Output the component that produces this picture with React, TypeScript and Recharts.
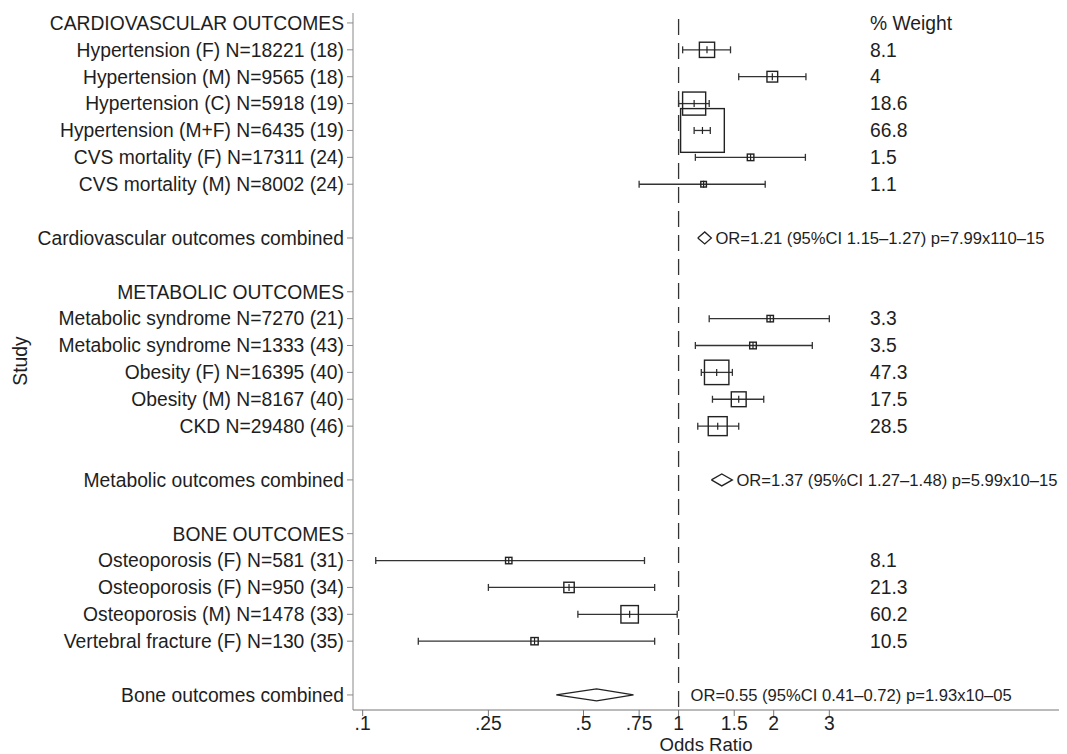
import React from 'react';
import { ScatterChart, Scatter, XAxis, YAxis, ErrorBar, ReferenceLine } from 'recharts';

const rowLabels: string[] = [
  'CARDIOVASCULAR OUTCOMES',
  'Hypertension (F) N=18221 (18)',
  'Hypertension (M) N=9565 (18)',
  'Hypertension (C) N=5918 (19)',
  'Hypertension (M+F) N=6435 (19)',
  'CVS mortality (F) N=17311 (24)',
  'CVS mortality (M) N=8002 (24)',
  '',
  'Cardiovascular outcomes combined',
  '',
  'METABOLIC OUTCOMES',
  'Metabolic syndrome N=7270 (21)',
  'Metabolic syndrome N=1333 (43)',
  'Obesity (F) N=16395 (40)',
  'Obesity (M) N=8167 (40)',
  'CKD N=29480 (46)',
  '',
  'Metabolic outcomes combined',
  '',
  'BONE OUTCOMES',
  'Osteoporosis (F) N=581 (31)',
  'Osteoporosis (F) N=950 (34)',
  'Osteoporosis (M) N=1478 (33)',
  'Vertebral fracture (F) N=130 (35)',
  '',
  'Bone outcomes combined',
];

const studyRows = [1, 2, 3, 4, 5, 6, 11, 12, 13, 14, 15, 20, 21, 22, 23];
const studyOR = [1.23, 1.98, 1.12, 1.19, 1.69, 1.2, 1.95, 1.72, 1.32, 1.55, 1.33, 0.29, 0.45, 0.7, 0.35];
const studyLower = [1.03, 1.55, 1.0, 1.12, 1.13, 0.75, 1.25, 1.13, 1.18, 1.28, 1.15, 0.11, 0.25, 0.48, 0.15];
const studyUpper = [1.46, 2.53, 1.25, 1.26, 2.52, 1.88, 3.0, 2.65, 1.48, 1.86, 1.55, 0.78, 0.84, 0.99, 0.84];
const studyWeight = [8.1, 4, 18.6, 66.8, 1.5, 1.1, 3.3, 3.5, 47.3, 17.5, 28.5, 8.1, 21.3, 60.2, 10.5];
const studyGroup = [0, 0, 0, 0, 0, 0, 1, 1, 1, 1, 1, 2, 2, 2, 2];

const pooledRows = [8, 17, 25];
const pooledOR = [1.21, 1.37, 0.55];
const pooledLower = [1.15, 1.27, 0.41];
const pooledUpper = [1.27, 1.48, 0.72];
const pooledP = ['7.99x110\u201315', '5.99x10\u201315', '1.93x10\u201305'];

const xTicks = [0.1, 0.25, 0.5, 0.75, 1, 1.5, 2, 3];
const xTickLabels = ['.1', '.25', '.5', '.75', '1', '1.5', '2', '3'];

const FONT = '"Liberation Sans", Arial, Helvetica, sans-serif';
const TEXT = '#1e1e1e';
const FS = 19.3;
const boxScale = [5.35, 3.55, 2.25];
const WEIGHT_X = 870;
const DIAMOND_HALF = 6 / 26.88;

const studyData = studyRows.map((row, i) => ({
  x: studyOR[i],
  row,
  err: [studyOR[i] - studyLower[i], studyUpper[i] - studyOR[i]],
  weight: studyWeight[i],
  group: studyGroup[i],
}));

const diamondData = pooledRows.map((row, i) => [
  { x: pooledLower[i], row },
  { x: pooledOR[i], row: row - DIAMOND_HALF },
  { x: pooledUpper[i], row },
  { x: pooledOR[i], row: row + DIAMOND_HALF },
  { x: pooledLower[i], row },
]);

const fmt = (v: number) => v.toFixed(2);
const orTextData = pooledRows.map((row, i) => ({
  x: Math.max(pooledUpper[i], 1),
  row,
  after: pooledUpper[i] >= 1,
  text: `OR=${fmt(pooledOR[i])} (95%CI ${fmt(pooledLower[i])}\u2013${fmt(pooledUpper[i])}) p=${pooledP[i]}`,
}));

const headerData = [{ x: 1, row: 0 }];

const tickRows = rowLabels.map((l, i) => (l ? i : -1)).filter((i) => i >= 0);

const BoxShape = (props: any) => {
  const { cx, cy, payload } = props;
  if (cx == null || cy == null) return <g />;
  const s = boxScale[payload.group] * Math.sqrt(payload.weight);
  return (
    <g>
      <rect x={cx - s / 2} y={cy - s / 2} width={s} height={s} fill="none" stroke="#222" strokeWidth={1.4} />
      <line x1={cx} x2={cx} y1={cy - 3.5} y2={cy + 3.5} stroke="#222" strokeWidth={1.2} />
      <text x={WEIGHT_X} y={cy} dy="0.35em" fontSize={FS} fill={TEXT} fontFamily={FONT}>
        {String(payload.weight)}
      </text>
    </g>
  );
};

const OrTextShape = (props: any) => {
  const { cx, cy, payload } = props;
  if (cx == null || cy == null) return <g />;
  return (
    <text x={cx + (payload.after ? 4 : 12)} y={cy} dy="0.35em" fontSize={16.6} fill={TEXT} fontFamily={FONT}>
      {payload.text}
    </text>
  );
};

const HeaderShape = (props: any) => {
  const { cy } = props;
  if (cy == null) return <g />;
  return (
    <text x={WEIGHT_X} y={cy} dy="0.35em" fontSize={FS} fill={TEXT} fontFamily={FONT}>
      % Weight
    </text>
  );
};

const Empty = () => <g />;

export default function App() {
  return (
    <div style={{ position: 'absolute', left: 0, top: 0, width: 1067, height: 754, background: '#fff', fontFamily: FONT }}>
      <ScatterChart width={1067} height={754} margin={{ top: 13, right: 8, bottom: 0, left: 0 }}>
        <XAxis
          dataKey="x"
          type="number"
          scale="log"
          domain={[0.0932, 16]}
          allowDataOverflow
          ticks={xTicks}
          interval={0}
          tickFormatter={(v: number) => xTickLabels[xTicks.indexOf(v)] ?? String(v)}
          height={44}
          tickSize={6}
          tickMargin={0}
          stroke="#777"
          tick={{ fontSize: FS, fill: TEXT, fontFamily: FONT }}
          label={{ value: 'Odds Ratio', position: 'insideBottom', offset: 3, fontSize: 18.6, fill: TEXT }}
        />
        <YAxis
          dataKey="row"
          type="number"
          domain={[-0.37, 25.56]}
          reversed
          allowDataOverflow
          ticks={tickRows}
          interval={0}
          tickFormatter={(v: number) => rowLabels[v] ?? ''}
          width={353}
          tickSize={6}
          tickMargin={3}
          stroke="#888"
          tick={{ fontSize: FS, fill: TEXT, fontFamily: FONT }}
          label={{
            content: () => (
              <text
                x={20}
                y={361}
                transform="rotate(-90 20 361)"
                textAnchor="middle"
                dominantBaseline="central"
                fontSize={FS}
                fill={TEXT}
                fontFamily={FONT}
              >
                Study
              </text>
            ),
          }}
        />
        <ReferenceLine x={1} stroke="#333" strokeWidth={1.3} strokeDasharray="16 8" strokeDashoffset={21} />
        <Scatter data={studyData} shape={BoxShape} isAnimationActive={false}>
          <ErrorBar dataKey="err" direction="x" width={3.5} stroke="#333" strokeWidth={1.3} />
        </Scatter>
        {diamondData.map((d, i) => (
          <Scatter
            key={`dia-${i}`}
            data={d}
            line={{ stroke: '#222', strokeWidth: 1.3 }}
            lineType="joint"
            shape={Empty}
            isAnimationActive={false}
          />
        ))}
        <Scatter data={orTextData} shape={OrTextShape} isAnimationActive={false} />
        <Scatter data={headerData} shape={HeaderShape} isAnimationActive={false} />
      </ScatterChart>
    </div>
  );
}
